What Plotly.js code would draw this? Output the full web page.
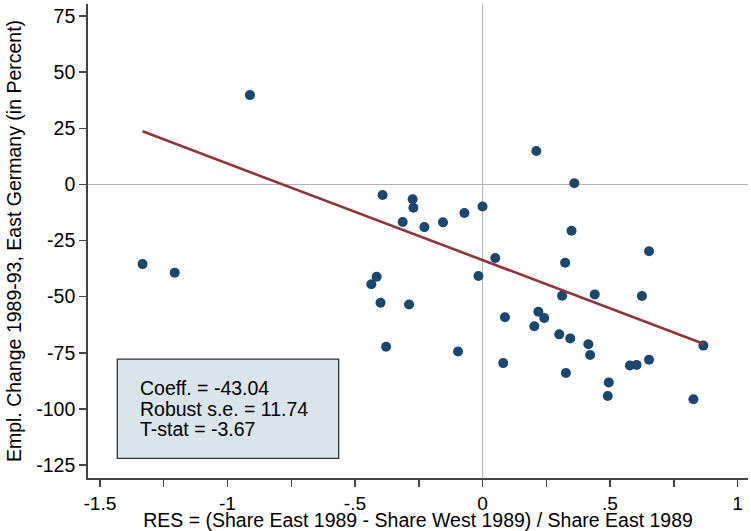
<!DOCTYPE html>
<html>
<head>
<meta charset="utf-8">
<script src="https://cdn.plot.ly/plotly-3.0.1.min.js"></script>
<style>
  html, body { margin: 0; padding: 0; background: #ffffff; }
  #chart { width: 751px; height: 531px; }
</style>
</head>
<body>
<div id="chart"></div>
<script>
// RES values (x) and employment change 1989-93 in percent (y)
var resValues = [
  -1.333, -1.207, -0.912, -0.392, -0.274, -0.271, -0.313, -0.228, -0.155, -0.071,
   0.000,  0.050, -0.415, -0.436, -0.016, -0.400, -0.288, -0.378, -0.096,  0.211,
   0.360,  0.349,  0.324,  0.312,  0.440,  0.088,  0.219,  0.242,  0.203,  0.301,
   0.344,  0.415,  0.422,  0.081,  0.327,  0.495,  0.491,  0.653,  0.625,  0.866,
   0.578,  0.604,  0.653,  0.827
];
var emplChange = [
  -35.5, -39.3,  39.8,  -4.7,  -6.6, -10.4, -16.7, -19.0, -16.9, -12.7,
   -9.8, -32.8, -41.1, -44.5, -40.8, -52.7, -53.5, -72.3, -74.4,  14.9,
    0.5, -20.6, -34.9, -49.6, -49.0, -59.2, -56.7, -59.5, -63.2, -66.8,
  -68.6, -71.2, -76.0, -79.6, -84.0, -88.2, -94.3, -29.8, -49.7, -71.8,
  -80.7, -80.4, -78.1, -95.7
];

// Linear fit
var fitSlope = -43.04;
var fitIntercept = -33.7;

// Stats box text
var statLabels = ["Coeff. = -43.04", "Robust s.e. = 11.74", "T-stat = -3.67"];

// Tick labels
var xTickVals = [-1.5, -1.25, -1, -0.75, -0.5, -0.25, 0, 0.25, 0.5, 0.75, 1];
var xTickText = ["-1.5", "", "-1", "", "-.5", "", "0", "", ".5", "", "1"];
var yTickVals = [75, 50, 25, 0, -25, -50, -75, -100, -125];
var yTickText = ["75", "50", "25", "0", "-25", "-50", "-75", "-100", "-125"];

var xMin = Math.min.apply(null, resValues);
var xMax = Math.max.apply(null, resValues);
var fitX = [xMin, xMax];
var fitY = fitX.map(function (v) { return fitIntercept + fitSlope * v; });

var FONT = "Liberation Sans, Arial, Helvetica, sans-serif";
var FS = 19.5;

var traces = [
  {
    x: resValues, y: emplChange, type: "scatter", mode: "markers",
    marker: { color: "#1a476f", size: 10, line: { width: 0 } },
    hoverinfo: "x+y", showlegend: false
  },
  {
    x: fitX, y: fitY, type: "scatter", mode: "lines",
    line: { color: "#90353b", width: 2.6 },
    hoverinfo: "none", showlegend: false
  }
];

var statY = [0.1892, 0.1447, 0.1030];
var annotations = statLabels.map(function (t, i) {
  return {
    text: t, xref: "paper", yref: "paper", x: 0.0762, y: statY[i],
    xanchor: "left", yanchor: "middle", showarrow: false,
    font: { family: FONT, size: FS, color: "#000000" }
  };
});

var layout = {
  width: 751, height: 531,
  margin: { l: 88, r: 3, t: 4, b: 53, pad: 0 },
  paper_bgcolor: "#ffffff", plot_bgcolor: "#ffffff",
  font: { family: FONT, size: FS, color: "#000000" },
  showlegend: false,
  xaxis: {
    range: [-1.547, 1.041],
    tickmode: "array", tickvals: xTickVals, ticktext: xTickText,
    ticks: "outside", ticklen: 7, tickwidth: 1.5, tickcolor: "#444444",
    showline: true, linecolor: "#444444", linewidth: 1.8,
    showgrid: false,
    zeroline: true, zerolinecolor: "#b4b4b4", zerolinewidth: 1.6,
    tickfont: { family: FONT, size: 19.2, color: "#000000" },
    title: { text: "RES = (Share East 1989 - Share West 1989) / Share East 1989",
             font: { family: FONT, size: FS, color: "#000000" }, standoff: 6 },
    fixedrange: true
  },
  yaxis: {
    range: [-130.8, 80.4],
    tickmode: "array", tickvals: yTickVals, ticktext: yTickText,
    ticks: "outside", ticklen: 7, tickwidth: 1.5, tickcolor: "#444444",
    showline: true, linecolor: "#444444", linewidth: 1.8,
    showgrid: false,
    zeroline: true, zerolinecolor: "#b4b4b4", zerolinewidth: 1.6,
    tickfont: { family: FONT, size: FS, color: "#000000" },
    title: { text: "Empl. Change 1989-93, East Germany (in Percent)",
             font: { family: FONT, size: FS, color: "#000000" }, standoff: 9 },
    fixedrange: true
  },
  shapes: [
    {
      type: "rect", xref: "paper", yref: "paper",
      x0: 0.0444, x1: 0.3798, y0: 0.0416, y1: 0.2510,
      fillcolor: "#d9e5eb", line: { color: "#333333", width: 1.3 },
      layer: "above"
    }
  ],
  annotations: annotations
};

Plotly.newPlot("chart", traces, layout, { displayModeBar: false, staticPlot: true });
</script>
</body>
</html>
